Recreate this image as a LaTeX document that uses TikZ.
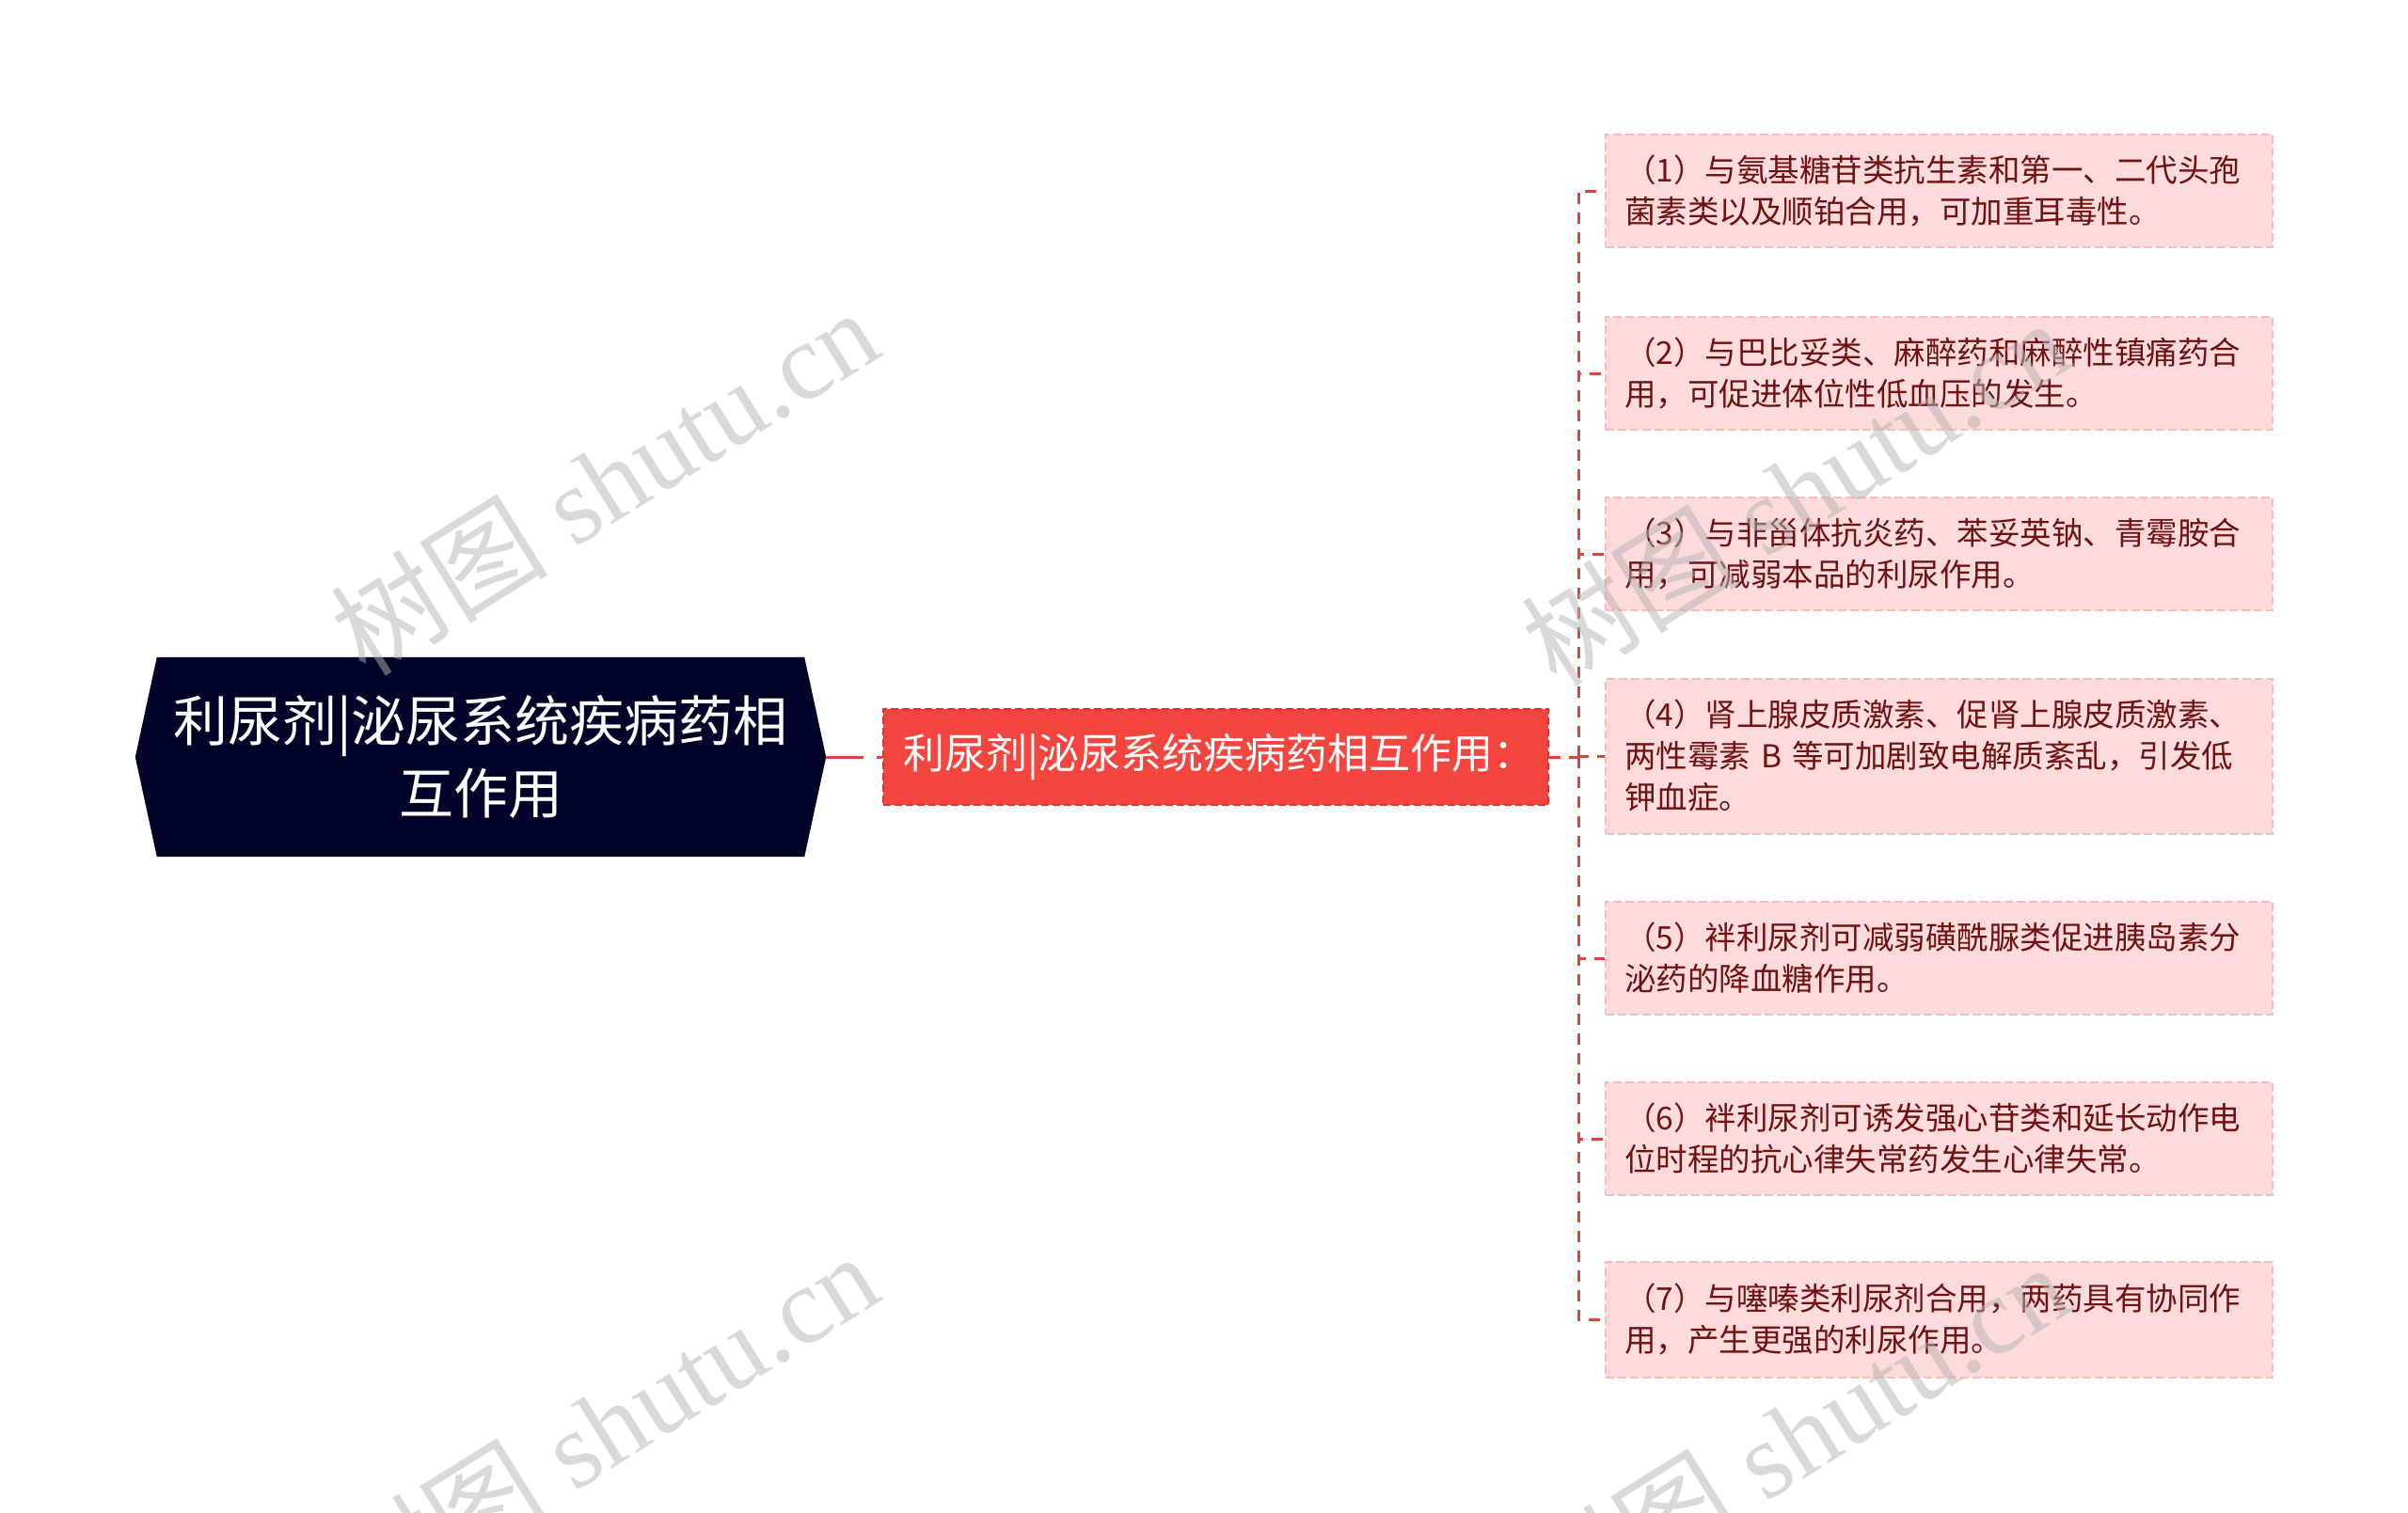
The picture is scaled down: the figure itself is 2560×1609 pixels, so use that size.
\documentclass[tikz,border=0pt]{standalone}
\usepackage{fontspec}
\setmainfont{Noto Sans CJK SC}
\newfontfamily\cjk{Noto Sans CJK SC}
\newfontfamily\wmserif{Liberation Serif}
\usetikzlibrary{calc,backgrounds}
\definecolor{rootfill}{HTML}{020329}
\definecolor{midfill}{HTML}{F5453F}
\definecolor{midborder}{HTML}{D8352F}
\definecolor{connred}{HTML}{DD4640}
\definecolor{childfill}{HTML}{FDDADB}
\definecolor{childborder}{HTML}{F5BDBE}
\definecolor{childtext}{HTML}{701212}
\definecolor{wmgray}{HTML}{B4B4B4}
\begin{document}
\begin{tikzpicture}[x=1pt,y=-1pt,
  rootnode/.style={minimum width=734pt, minimum height=212pt, inner sep=0pt, align=center,
    text=white, font=\cjk\fontsize{58}{77}\selectfont},
  midnode/.style={fill=midfill, draw=midborder, line width=2pt, dash pattern=on 8pt off 4pt,
    minimum width=707pt, minimum height=102pt, inner xsep=21pt, inner ysep=0pt,
    text width=665pt, align=left, text=white, font=\cjk\fontsize{44}{52}\selectfont},
  childbox/.style={fill=childfill, draw=childborder, line width=2pt, dash pattern=on 9pt off 4pt,
    anchor=west, minimum width=709pt, minimum height=120pt, inner xsep=20pt, inner ysep=0pt,
    text width=669pt, align=left, text=childtext, font=\cjk\fontsize{33.5}{44}\selectfont},
  conn/.style={draw=connred, line width=3pt, dash pattern=on 12pt off 9pt},
  wm/.style={text=wmgray, text opacity=0.5, font=\fontsize{116}{116}\selectfont, rotate=32, inner sep=0pt}
]
\useasboundingbox (0,0) rectangle (2560,1609);

% root
\node[rootnode] (root) at (511,805) {利尿剂|泌尿系统疾病药相\\互作用};
\begin{scope}[on background layer]
\fill[rootfill] (root.west) -- ($(root.north west)+(23,0)$) -- ($(root.north east)+(-23,0)$)
  -- (root.east) -- ($(root.south east)+(-23,0)$) -- ($(root.south west)+(23,0)$) -- cycle;
\end{scope}

% middle
\node[midnode] (mid) at (1292.5,805) {利尿剂|泌尿系统疾病药相互作用：};

% children
\node[childbox] (c1) at (1706,203) {（1）与氨基糖苷类抗生素和第一、二代头孢\\菌素类以及顺铂合用，可加重耳毒性。};
\node[childbox] (c2) at (1706,397) {（2）与巴比妥类、麻醉药和麻醉性镇痛药合\\用，可促进体位性低血压的发生。};
\node[childbox] (c3) at (1706,589) {（3）与非甾体抗炎药、苯妥英钠、青霉胺合\\用，可减弱本品的利尿作用。};
\node[childbox, minimum height=165pt] (c4) at (1706,804) {（4）肾上腺皮质激素、促肾上腺皮质激素、\\两性霉素 B 等可加剧致电解质紊乱，引发低\\钾血症。};
\node[childbox] (c5) at (1706,1019) {（5）袢利尿剂可减弱磺酰脲类促进胰岛素分\\泌药的降血糖作用。};
\node[childbox] (c6) at (1706,1211) {（6）袢利尿剂可诱发强心苷类和延长动作电\\位时程的抗心律失常药发生心律失常。};
\node[childbox, minimum height=123pt] (c7) at (1706,1403) {（7）与噻嗪类利尿剂合用，两药具有协同作\\用，产生更强的利尿作用。};

% connectors
\draw[conn, dash pattern=on 40pt off 14pt] (root.east) -- (mid.west);
\coordinate (bus) at ($(mid.east)+(31,0)$);
\draw[conn] (mid.east) -- (bus);
\foreach \c in {c1,c2,c3,c4,c5,c6,c7} {
  \draw[conn] (bus) |- (\c.west);
}

% watermarks
\begin{scope}
\clip (0,0) rectangle (2560,1609);
\node[wm] (wm1) at (642,512) {\cjk 树图\wmserif\ shutu.cn};
\node[wm] (wm2) at (1908,523) {\cjk 树图\wmserif\ shutu.cn};
\node[wm] (wm3) at (642,1516) {\cjk 树图\wmserif\ shutu.cn};
\node[wm] (wm4) at (1908,1527) {\cjk 树图\wmserif\ shutu.cn};
\end{scope}
\end{tikzpicture}
\end{document}
